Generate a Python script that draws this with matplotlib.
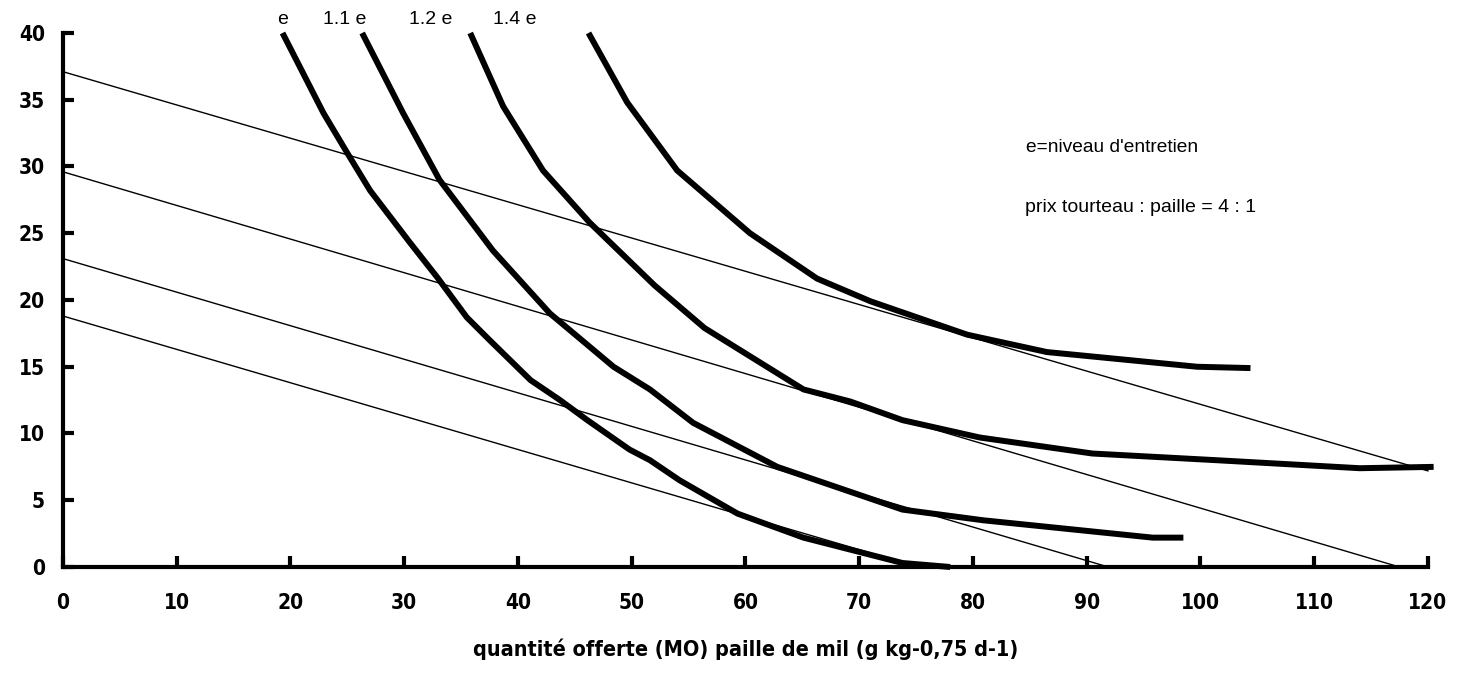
# Isoquantes (niveau d'entretien) et droites de budget tourteau / paille de mil
import matplotlib.pyplot as plt

# courbes d'isoquantes
e_x = [19.3, 21.1, 22.9, 25.0, 27.0, 30.5, 32.9, 35.5, 37.5, 41.1, 43.7, 46.1, 49.8, 51.6, 54.2, 59.3, 65.1, 73.8, 78.0]
e_y = [40.0, 37.0, 34.0, 31.0, 28.2, 24.3, 21.7, 18.7, 17.0, 14.0, 12.5, 11.0, 8.8, 8.0, 6.5, 4.0, 2.2, 0.3, 0.0]

e11_x = [26.3, 29.9, 33.1, 37.8, 42.8, 48.4, 51.6, 55.4, 62.8, 73.8, 80.9, 95.8, 98.5]
e11_y = [40.0, 34.0, 29.0, 23.7, 19.0, 15.0, 13.3, 10.8, 7.5, 4.3, 3.5, 2.2, 2.2]

e12_x = [35.8, 38.7, 42.2, 46.3, 52.0, 56.4, 65.1, 69.2, 73.8, 80.6, 90.5, 101.4, 114.0, 120.5]
e12_y = [40.0, 34.5, 29.7, 25.8, 21.1, 17.9, 13.3, 12.4, 11.0, 9.7, 8.5, 8.0, 7.4, 7.5]

e14_x = [46.2, 49.6, 54.0, 60.4, 66.3, 71.0, 79.5, 86.5, 99.7, 104.4]
e14_y = [40.0, 34.8, 29.7, 25.0, 21.6, 19.9, 17.4, 16.1, 15.0, 14.9]

# droites de prix (tourteau : paille = 4 : 1)
budget_x = [[0, 120.0], [0, 117.5], [0, 91.9], [0, 75.2]]
budget_y = [[37.1, 7.2], [29.6, 0.0], [23.1, 0.0], [18.8, 0.0]]

curve_labels = ['e', '1.1 e', '1.2 e', '1.4 e']
label_x = [19.3, 24.8, 32.3, 39.7]

fig = plt.figure(figsize=(14.65, 6.73), dpi=100)
ax = fig.add_axes([0.043, 0.1575, 0.9317, 0.7935])

for bx, by in zip(budget_x, budget_y):
    ax.plot(bx, by, color='black', linewidth=1.0, clip_on=False)

for cx, cy in [(e_x, e_y), (e11_x, e11_y), (e12_x, e12_y), (e14_x, e14_y)]:
    ax.plot(cx, cy, color='black', linewidth=4.3, clip_on=False, solid_capstyle='butt')

txt_font = ['Liberation Sans', 'DejaVu Sans']
for lab, lx in zip(curve_labels, label_x):
    ax.text(lx, 41.0, lab, ha='center', va='center', fontsize=14, family=txt_font)

ax.text(84.7, 31.4, "e=niveau d'entretien", ha='left', va='center', fontsize=13.8, family=txt_font)
ax.text(84.6, 26.9, 'prix tourteau : paille = 4 : 1', ha='left', va='center', fontsize=14, family=txt_font)

ax.set_xlim(0, 120)
ax.set_ylim(0, 40)
ax.set_xticks(range(0, 121, 10))
ax.set_yticks(range(0, 41, 5))

for s in ['top', 'right']:
    ax.spines[s].set_visible(False)
for s in ['left', 'bottom']:
    ax.spines[s].set_linewidth(3)

ax.tick_params(axis='both', direction='in', length=8, width=3)
ax.tick_params(axis='y', pad=13)
ax.tick_params(axis='x', pad=19)
for t in ax.get_xticklabels() + ax.get_yticklabels():
    t.set_family('DejaVu Sans')
    t.set_stretch('condensed')
    t.set_fontweight('bold')
    t.set_fontsize(15)

ax.set_xlabel('quantité offerte (MO) paille de mil (g kg-0,75 d-1)', family='DejaVu Sans',
              fontstretch='condensed', fontweight='bold', fontsize=15.5, labelpad=18)

plt.savefig('out.png', dpi=100)
